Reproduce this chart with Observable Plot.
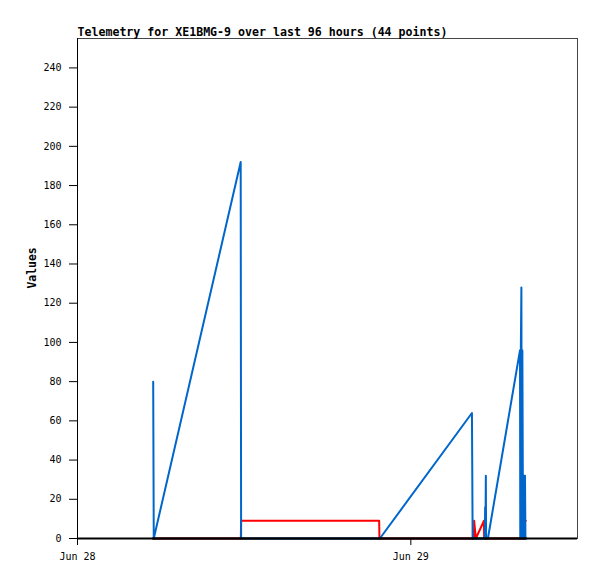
<!DOCTYPE html>
<html><head><meta charset="utf-8">
<script src="https://cdn.jsdelivr.net/npm/d3@7"></script>
<script src="https://cdn.jsdelivr.net/npm/@observablehq/plot@0.6"></script>
<style>body{margin:0;background:#fff}</style>
</head><body><div id="chart"></div>
<script>
const title = "Telemetry for XE1BMG-9 over last 96 hours (44 points)";
const yLabel = "Values";
const startTime = "2024-06-28T00:00:00Z";
const endTime = "2024-06-29T12:00:00Z";
const xTickDates = ["2024-06-28T00:00:00Z", "2024-06-29T00:00:00Z"];
const yTicks = [0, 20, 40, 60, 80, 100, 120, 140, 160, 180, 200, 220, 240];
const yMax = 255;

// hours since Jun 28 00:00 and values
const blueHours  = [5.45, 5.49, 11.75, 11.78, 21.77, 28.40, 28.45, 29.33, 29.35, 29.37, 29.40, 29.42, 29.55, 31.86, 31.88, 31.92, 31.96, 31.99, 32.03, 32.08, 32.14, 32.17, 32.22, 32.25];
const blueValues = [80, 0, 192, 0, 0, 64, 0, 0, 16, 0, 32, 0, 0, 96, 0, 96, 128, 0, 96, 0, 32, 0, 32, 0];
const redHours   = [5.45, 11.76, 11.78, 21.72, 21.74, 28.54, 28.56, 28.68, 29.26, 29.28, 32.10, 32.12, 32.28];
const redValues  = [0, 0, 9, 9, 0, 0, 9, 0, 9, 0, 0, 9, 9];
const blackHours = [5.42, 32.32];
const blackValues = [0, 0];

const t0 = new Date(startTime);
const toDate = h => new Date(t0.getTime() + h * 3600e3);
const series = (hours, values) => hours.map((h, i) => ({t: toDate(h), v: values[i]}));
const blue = series(blueHours, blueValues);
const red = series(redHours, redValues);
const black = series(blackHours, blackValues);

const chart = Plot.plot({
  width: 597, height: 579,
  marginLeft: 77, marginRight: 20, marginTop: 38, marginBottom: 41,
  style: {fontFamily: "DejaVu Sans Mono", fontSize: "10px", background: "#fff", color: "#000"},
  x: {type: "utc", domain: [new Date(startTime), new Date(endTime)]},
  y: {domain: [0, yMax]},
  marks: [
    Plot.frame({stroke: "#444"}),
    Plot.axisY({ticks: yTicks, tickSize: 8, tickPadding: 8, label: null}),
    Plot.axisX({ticks: xTickDates.map(d => new Date(d)), tickFormat: d3.utcFormat("%b %d"), tickSize: 7, tickPadding: 7, label: null}),
    Plot.line(red, {x: "t", y: "v", stroke: "#ff0000", strokeWidth: 2}),
    Plot.line(blue, {x: "t", y: "v", stroke: "#0066cc", strokeWidth: 2}),
    Plot.line(black, {x: "t", y: "v", stroke: "#000", strokeWidth: 2}),
    Plot.ruleY([0], {stroke: "#000", strokeWidth: 2}),
    Plot.ruleX([new Date(startTime)], {stroke: "#000", strokeWidth: 1}),
    Plot.text([title], {text: d => d, frameAnchor: "top-left", lineAnchor: "bottom", textAnchor: "start", dy: -3, fontWeight: "bold", fontSize: 11.6}),
    Plot.text([yLabel], {text: d => d, frameAnchor: "left", rotate: -90, dx: -45, fontWeight: "bold", fontSize: 11.4})
  ]
});
document.getElementById("chart").appendChild(chart);
</script>
</body></html>
